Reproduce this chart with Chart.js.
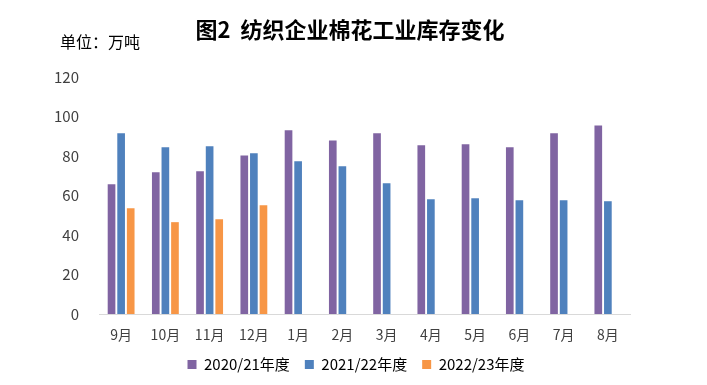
<!DOCTYPE html>
<html>
<head>
<meta charset="utf-8">
<script src="https://cdn.jsdelivr.net/npm/chart.js@4"></script>
<style>
  html, body { margin: 0; padding: 0; background: #fff; }
  #wrap { width: 707px; height: 385px; position: relative; }
</style>
</head>
<body>
<div id="wrap"><canvas id="c"></canvas></div>
<script>
// data
const months = ['9月', '10月', '11月', '12月', '1月', '2月', '3月', '4月', '5月', '6月', '7月', '8月'];
const seasonNames = ['2020/21年度', '2021/22年度', '2022/23年度'];
const s2020 = [65.7, 71.8, 72.3, 80.3, 93.0, 87.9, 91.5, 85.4, 85.9, 84.4, 91.5, 95.5];
const s2021 = [91.5, 84.4, 84.9, 81.4, 77.3, 74.8, 66.2, 58.1, 58.6, 57.6, 57.6, 57.1];
const s2022 = [53.6, 46.5, 48.0, 55.1, null, null, null, null, null, null, null, null];
const yTicks = [0, 20, 40, 60, 80, 100, 120];

const titleText = '图2  纺织企业棉花工业库存变化';
const unitText = '单位：万吨';
const fontFam = '"Noto Sans CJK SC", "Liberation Sans", sans-serif';

// title + unit label drawn on the canvas
const headerText = {
  id: 'headerText',
  afterDraw(chart) {
    const ctx = chart.ctx;
    ctx.save();
    ctx.fillStyle = '#000';
    ctx.textBaseline = 'middle';
    ctx.textAlign = 'center';
    ctx.font = 'bold 22px ' + fontFam;
    ctx.fillText(titleText, 350, 30);
    ctx.textAlign = 'left';
    ctx.font = '16px ' + fontFam;
    ctx.fillText(unitText, 60, 42);
    ctx.restore();
  }
};

new Chart(document.getElementById('c'), {
  type: 'bar',
  data: {
    labels: months,
    datasets: [
      { label: seasonNames[0], data: s2020, backgroundColor: '#8064A2' },
      { label: seasonNames[1], data: s2021, backgroundColor: '#4F81BD' },
      { label: seasonNames[2], data: s2022, backgroundColor: '#F79646' }
    ]
  },
  options: {
    responsive: true,
    maintainAspectRatio: false,
    animation: false,
    devicePixelRatio: 1,
    layout: { padding: { top: 77, right: 0, left: 5, bottom: 3 } },
    datasets: {
      bar: { categoryPercentage: 0.65, barPercentage: 0.8 }
    },
    scales: {
      x: {
        afterFit(scale) { scale.height = 28; },
        grid: { display: false, drawTicks: false },
        border: { display: true, color: '#d9d9d9', width: 1 },
        ticks: { color: '#404040', padding: 12, font: { size: 14, family: fontFam } }
      },
      y: {
        min: 0,
        max: 120,
        afterFit(scale) { scale.width = 94; },
        afterBuildTicks(scale) { scale.ticks = yTicks.map(v => ({ value: v })); },
        grid: { display: false, drawTicks: false },
        border: { display: false },
        ticks: { color: '#404040', padding: 20, font: { size: 15, family: fontFam } }
      },
      // empty right axis, only keeps the right margin so the legend stays centred on the page
      pad: {
        type: 'linear',
        position: 'right',
        afterFit(scale) { scale.width = 77; },
        grid: { display: false, drawTicks: false },
        border: { display: false },
        ticks: { display: false }
      }
    },
    plugins: {
      legend: {
        position: 'bottom',
        labels: {
          boxWidth: 9,
          boxHeight: 9,
          color: '#000',
          padding: 15,
          font: { size: 15, family: fontFam }
        }
      },
      tooltip: { enabled: false }
    }
  },
  plugins: [headerText]
});
</script>
</body>
</html>
